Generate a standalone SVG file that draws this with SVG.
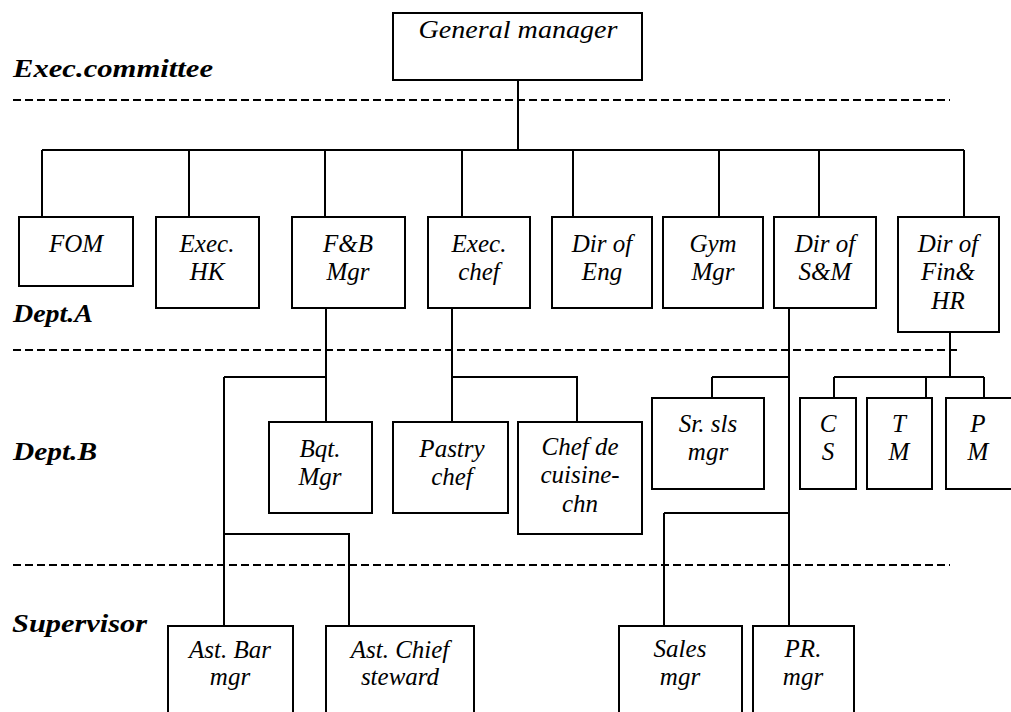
<svg xmlns="http://www.w3.org/2000/svg" width="1011" height="712" viewBox="0 0 1011 712">
<style>
.box{fill:#fff;stroke:#000;stroke-width:2}
.t{font-style:italic;font-size:25px;text-anchor:middle;fill:#000}
.lbl{font-style:italic;font-weight:bold;font-size:25px;fill:#000}
.ln{fill:none;stroke:#000;stroke-width:2}
.dash{fill:none;stroke:#000;stroke-width:2;stroke-dasharray:8 4}
</style>
<rect width="1011" height="712" fill="#fff"/>
<g id="levels" font-family="Liberation Serif, Times New Roman, Times, serif">
<text class="lbl" x="13" y="77" textLength="200" lengthAdjust="spacingAndGlyphs">Exec.committee</text>
<text class="lbl" x="13" y="322" textLength="80" lengthAdjust="spacingAndGlyphs">Dept.A</text>
<text class="lbl" x="13" y="460" textLength="84" lengthAdjust="spacingAndGlyphs">Dept.B</text>
<text class="lbl" x="12" y="632" textLength="135" lengthAdjust="spacingAndGlyphs">Supervisor</text>
<line class="dash" x1="13" y1="100" x2="950" y2="100"/>
<line class="dash" x1="13" y1="350" x2="958" y2="350"/>
<line class="dash" x1="13" y1="565" x2="950" y2="565"/>
</g>
<g id="connectors">
<path class="ln" d="M518 80V150M42 150H964M42 150V217M189 150V217M325 150V217M462 150V217M573 150V217M719 150V217M819 150V217M964 150V217"/>
<path class="ln" d="M326 308V422M224 377H326M224 377V626M224 534H349V626M452 308V422M452 377H577V422"/>
<path class="ln" d="M789 308V626M712 377H789M712 377V398M664 513H789M664 513V626"/>
<path class="ln" d="M950 332V377M834 377H984M834 377V398M926 377V398M984 377V398"/>
</g>
<g font-family="Liberation Serif, Times New Roman, Times, serif">
<g id="gm"><rect class="box" x="393" y="13" width="249" height="67"/><text class="t" x="518" y="38" textLength="199" lengthAdjust="spacingAndGlyphs">General manager</text></g>
<g id="fom"><rect class="box" x="19" y="217" width="114" height="69"/><text class="t" x="76" y="252">FOM</text></g>
<g id="exechk"><rect class="box" x="156" y="217" width="103" height="91"/><text class="t" x="207" y="252">Exec.</text><text class="t" x="207" y="280">HK</text></g>
<g id="fbmgr"><rect class="box" x="292" y="217" width="113" height="91"/><text class="t" x="348" y="252">F&amp;B</text><text class="t" x="348" y="280">Mgr</text></g>
<g id="execchef"><rect class="box" x="428" y="217" width="102" height="91"/><text class="t" x="479" y="252">Exec.</text><text class="t" x="479" y="280">chef</text></g>
<g id="direng"><rect class="box" x="552" y="217" width="100" height="91"/><text class="t" x="602" y="252">Dir of</text><text class="t" x="602" y="280">Eng</text></g>
<g id="gymmgr"><rect class="box" x="663" y="217" width="100" height="91"/><text class="t" x="713" y="252">Gym</text><text class="t" x="713" y="280">Mgr</text></g>
<g id="dirsm"><rect class="box" x="774" y="217" width="102" height="91"/><text class="t" x="825" y="252">Dir of</text><text class="t" x="825" y="280">S&amp;M</text></g>
<g id="dirfin"><rect class="box" x="898" y="217" width="101" height="115"/><text class="t" x="948" y="252">Dir of</text><text class="t" x="948" y="280">Fin&amp;</text><text class="t" x="948" y="309">HR</text></g>
<g id="bqt"><rect class="box" x="269" y="422" width="103" height="91"/><text class="t" x="320" y="457">Bqt.</text><text class="t" x="320" y="485">Mgr</text></g>
<g id="pastry"><rect class="box" x="393" y="422" width="115" height="91"/><text class="t" x="452" y="457">Pastry</text><text class="t" x="452" y="485">chef</text></g>
<g id="chefdecuisine"><rect class="box" x="518" y="422" width="124" height="112"/><text class="t" x="580" y="455">Chef de</text><text class="t" x="580" y="483">cuisine-</text><text class="t" x="580" y="512">chn</text></g>
<g id="srsls"><rect class="box" x="652" y="398" width="112" height="91"/><text class="t" x="708" y="432">Sr. sls</text><text class="t" x="708" y="460">mgr</text></g>
<g id="cs"><rect class="box" x="800" y="398" width="56" height="91"/><text class="t" x="828" y="432">C</text><text class="t" x="828" y="460">S</text></g>
<g id="tm"><rect class="box" x="867" y="398" width="65" height="91"/><text class="t" x="899" y="432">T</text><text class="t" x="899" y="460">M</text></g>
<g id="pm"><rect class="box" x="946" y="398" width="80" height="91"/><text class="t" x="978" y="432">P</text><text class="t" x="978" y="460">M</text></g>
<g id="astbar"><rect class="box" x="168" y="626" width="125" height="100"/><text class="t" x="230" y="658">Ast. Bar</text><text class="t" x="230" y="685">mgr</text></g>
<g id="astchief"><rect class="box" x="326" y="626" width="148" height="100"/><text class="t" x="400" y="658">Ast. Chief</text><text class="t" x="400" y="685">steward</text></g>
<g id="sales"><rect class="box" x="619" y="626" width="123" height="100"/><text class="t" x="680" y="657">Sales</text><text class="t" x="680" y="685">mgr</text></g>
<g id="prmgr"><rect class="box" x="753" y="626" width="101" height="100"/><text class="t" x="803" y="657">PR.</text><text class="t" x="803" y="685">mgr</text></g>
</g>
</svg>
